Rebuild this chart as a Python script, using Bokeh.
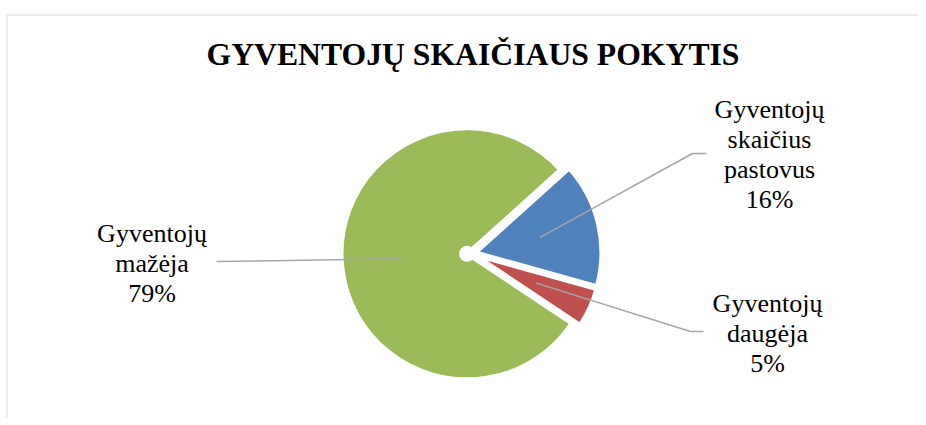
import math
from bokeh.plotting import figure
from bokeh.models import Range1d, ColumnDataSource
from bokeh.core.properties import value
from bokeh.embed import file_html
from bokeh.resources import INLINE

# ---- data ----
title_text = "GYVENTOJŲ SKAIČIAUS POKYTIS"
categories = ["Gyventojų\nskaičius\npastovus", "Gyventojų\ndaugėja", "Gyventojų\nmažėja"]
shares = [16, 5, 79]
colors = ["#4F81BD", "#C0504D", "#9BBB59"]

# ---- layout (picture pixel coordinates) ----
W, H = 918, 417


def Y(py):
    return H - py


cx, cy = 471.0, Y(253)      # pie centre
R = 125.5                   # slice radius (incl. white border)
explode = 4.5               # explosion distance of every slice
first_angle = 48.0          # degrees clockwise from 12 o'clock
leader_r = 66.0             # where leader lines start inside slices
label_anchor = [(769, 118), (767, 312), (151.5, 242)]   # first baseline, centre x
leader_tail = [[(692, 153), (706, 153)], [(690, 331), (703, 331)], [(216, 261)]]
line_step = 30
text_shift = 9              # baseline correction for the renderer
serif = value("Liberation Serif")

p = figure(width=W, height=H, x_range=Range1d(0, W), y_range=Range1d(0, H),
           output_backend="svg", toolbar_location=None, min_border=0)
p.axis.visible = False
p.grid.visible = False
p.outline_line_color = None
p.background_fill_color = "white"
p.border_fill_color = "white"

# chart area frame (left and top edges visible)
p.line([6.5, 6.5, W], [0, Y(14.5), Y(14.5)], line_color="#D9D9D9", line_width=1)

# ---- slices ----
total = float(sum(shares))
acc = first_angle
xs, ys, sa, ea, mids = [], [], [], [], []
for v in shares:
    span = 360.0 * v / total
    t0, t1 = acc, acc + span
    acc = t1
    tm = math.radians((t0 + t1) / 2)
    mids.append(tm)
    xs.append(cx + explode * math.sin(tm))
    ys.append(cy + explode * math.cos(tm))
    sa.append(math.radians(90 - t1))
    ea.append(math.radians(90 - t0))

src = ColumnDataSource(dict(x=xs, y=ys, s=sa, e=ea, color=colors))
p.wedge(x="x", y="y", radius=R, start_angle="s", end_angle="e",
        fill_color="color", line_color="white", line_width=4, source=src)

# white hub where the slices meet
gi = shares.index(max(shares))
p.scatter(x=[xs[gi]], y=[ys[gi]], size=16, marker="circle",
          fill_color="white", line_color=None)

# ---- leader lines ----
lx, ly = [], []
for i in range(len(shares)):
    sx = xs[i] + leader_r * math.sin(mids[i])
    sy = ys[i] + leader_r * math.cos(mids[i])
    px = [sx] + [pt[0] for pt in leader_tail[i]]
    py = [sy] + [Y(pt[1]) for pt in leader_tail[i]]
    lx.append(px)
    ly.append(py)
p.multi_line(xs=lx, ys=ly, line_color="#A6A6A6", line_width=1.5)

# ---- data labels ----
tx, ty, tt = [], [], []
for i, cat in enumerate(categories):
    lines = cat.split("\n") + [f"{shares[i]}%"]
    ax, ay = label_anchor[i]
    for j, ln in enumerate(lines):
        tx.append(ax)
        ty.append(Y(ay - text_shift + j * line_step))
        tt.append(ln)
p.text(x=tx, y=ty, text=tt, text_font=serif, text_font_size="26px",
       text_color="black", text_align="center", text_baseline="alphabetic")

# ---- title ----
p.text(x=[472.5], y=[Y(63.3 - text_shift)], text=[title_text], text_font=serif,
       text_font_size="31.7px", text_font_style="bold", text_color="black",
       text_align="center", text_baseline="alphabetic")

open("out.html", "w").write(file_html(p, INLINE))
